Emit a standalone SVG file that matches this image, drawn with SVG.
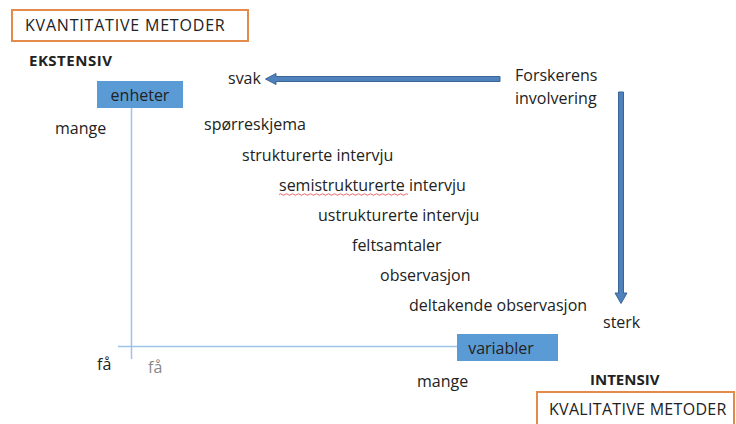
<svg xmlns="http://www.w3.org/2000/svg" width="736" height="424" viewBox="0 0 736 424">
<style>
  text { font-family: "Open Sans", "Liberation Sans", sans-serif; font-size: 16px; fill: #222; }
  .bold { font-weight: bold; font-size: 15px; }
  .title { font-size: 16px; letter-spacing: 0.3px; }
  .frame { fill: #fff; stroke: #E48A4A; stroke-width: 2; }
  .node { fill: #5B9BD5; }
  .axis { stroke: #9DC3E6; stroke-width: 1.5; fill: none; }
  .arrow { fill: #4F81BD; stroke: #3A6597; stroke-width: 1; }
  .grey { fill: #888; }
</style>
<rect width="736" height="424" fill="#fff"/>

<g id="kvantitative">
  <rect class="frame" x="12" y="10" width="236" height="31"/>
  <text class="title" x="25" y="31" style="letter-spacing:0.8px">KVANTITATIVE METODER</text>
</g>
<text class="bold" x="29" y="66" style="letter-spacing:0.5px">EKSTENSIV</text>

<g id="axes">
  <line class="axis" x1="131.5" y1="108" x2="131.5" y2="359"/>
  <line class="axis" x1="118" y1="346.5" x2="458" y2="346.5"/>
</g>

<g id="enheter">
  <rect class="node" x="97" y="81" width="86" height="27"/>
  <text x="140" y="101" text-anchor="middle" font-size="15.5">enheter</text>
</g>
<text x="55" y="134">mange</text>

<g id="variabler">
  <rect class="node" x="457" y="334" width="101" height="27"/>
  <text x="501" y="354" text-anchor="middle" font-size="16.5">variabler</text>
</g>
<text x="97" y="370">få</text>
<text class="grey" x="148" y="373">få</text>
<text x="417" y="387">mange</text>

<g id="connectors">
  <path class="arrow" d="M500,76.5 L276,76.5 L276,73.5 L265.5,79 L276,84.5 L276,81.5 L500,81.5 Z"/>
  <path class="arrow" d="M618.5,92 L618.5,293 L615,293 L621,303.5 L627,293 L623.5,293 L623.5,92 Z"/>
</g>

<text x="228" y="84">svak</text>
<g id="forskerens">
  <text x="515" y="81">Forskerens</text>
  <text x="515" y="104">involvering</text>
</g>
<text x="603" y="328">sterk</text>

<g id="methods">
  <text x="204" y="130">spørreskjema</text>
  <text x="242" y="161">strukturerte intervju</text>
  <text x="279" y="191">semistrukturerte intervju</text>
  <path d="M279,194.5 q1.5,-1.5 3,0 t3,0 t3,0 t3,0 t3,0 t3,0 t3,0 t3,0 t3,0 t3,0 t3,0 t3,0 t3,0 t3,0 t3,0 t3,0 t3,0 t3,0 t3,0 t3,0 t3,0 t3,0 t3,0 t3,0 t3,0 t3,0 t3,0 t3,0 t3,0 t3,0 t3,0 t3,0 t3,0 t3,0 t3,0 t3,0 t3,0 t3,0 t3,0 t3,0 t3,0 t3,0 t3,0" fill="none" stroke="#E04040" stroke-width="0.8"/>
  <text x="318" y="221">ustrukturerte intervju</text>
  <text x="352" y="251">feltsamtaler</text>
  <text x="380" y="281">observasjon</text>
  <text x="409" y="311">deltakende observasjon</text>
</g>

<text class="bold" x="590" y="385">INTENSIV</text>
<g id="kvalitative">
  <rect class="frame" x="537" y="392" width="197" height="40"/>
  <text class="title" x="549" y="415">KVALITATIVE METODER</text>
</g>
</svg>
